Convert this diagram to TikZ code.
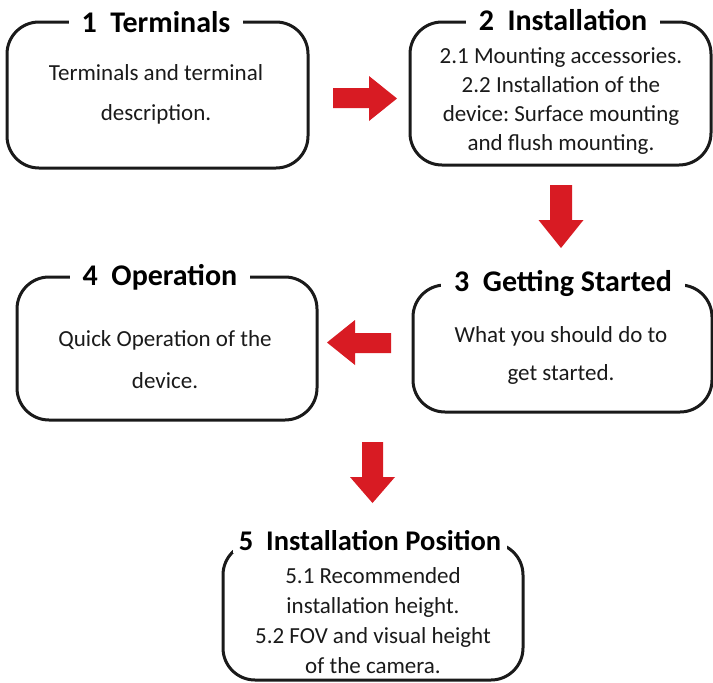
\documentclass[tikz,border=0pt]{standalone}
\usepackage{fontspec}
\setmainfont{Carlito}
\frenchspacing
\definecolor{arrowred}{RGB}{216,27,35}
\definecolor{ink}{RGB}{26,26,26}
\begin{document}
\begin{tikzpicture}[x=1pt,y=-1pt,
  box/.style={draw=ink, line width=3pt, rounded corners=32pt, inner sep=0pt},
  title/.style={fill=white, inner xsep=13pt, inner ysep=2pt, font=\fontsize{30}{34}\selectfont\bfseries, text=black},
  body/.style={align=center, inner sep=0pt, text=ink},
  blockarrow/.style={fill=arrowred}]
\useasboundingbox (0,0) rectangle (713,683);

% rounded frames
\node[box, minimum width=301pt, minimum height=146pt] (b1) at (157.5,95) {};
\node[box, minimum width=301pt, minimum height=143pt] (b2) at (560.5,93.5) {};
\node[box, minimum width=299pt, minimum height=127pt] (b3) at (562.5,348.5) {};
\node[box, minimum width=300pt, minimum height=143pt] (b4) at (167,348.5) {};
\node[box, minimum width=300pt, minimum height=137pt] (b5) at (373,611.5) {};

% headings breaking the top edges
\node[title] (t1) at (156,22) {1\ \ Terminals};
\node[title] (t2) at (563,20) {2\ \ Installation};
\node[title] (t3) at (563,283) {3\ \ Getting Started};
\node[title] (t4) at (160,277) {4\ \ Operation};
\node[title, inner xsep=6pt, font=\fontsize{28.5}{32}\selectfont\bfseries] (t5) at (370,541) {5\ \ Installation Position};

% descriptions
\node[body, font=\fontsize{23}{40}\selectfont] (d1) at (156,94) {Terminals and terminal\\description.};
\node[body, font=\fontsize{23}{28.7}\selectfont] (d2) at (561,101) {2.1 Mounting accessories.\\2.2 Installation of the\\device: Surface mounting\\and flush mounting.};
\node[body, font=\fontsize{23}{38}\selectfont] (d3) at (561,355) {What you should do to\\get started.};
\node[body, font=\fontsize{23}{42}\selectfont] (d4) at (165,360) {Quick Operation of the\\device.};
\node[body, font=\fontsize{23}{30}\selectfont] (d5) at (373,621) {5.1 Recommended\\installation height.\\5.2 FOV and visual height\\of the camera.};

% red block arrows between the steps
\fill[blockarrow] (333,88) -- (369,88) -- (369,76) -- (397,98.5) -- (369,121) -- (369,108) -- (333,108) -- cycle;
\fill[blockarrow] (550,185) -- (572,185) -- (572,220) -- (583.5,220) -- (561,248) -- (538.5,220) -- (550,220) -- cycle;
\fill[blockarrow] (391,333) -- (355,333) -- (355,320) -- (327,342.5) -- (355,365) -- (355,353) -- (391,353) -- cycle;
\fill[blockarrow] (362,442) -- (383,442) -- (383,477) -- (395,477) -- (372.5,503) -- (350,477) -- (362,477) -- cycle;
\end{tikzpicture}
\end{document}
